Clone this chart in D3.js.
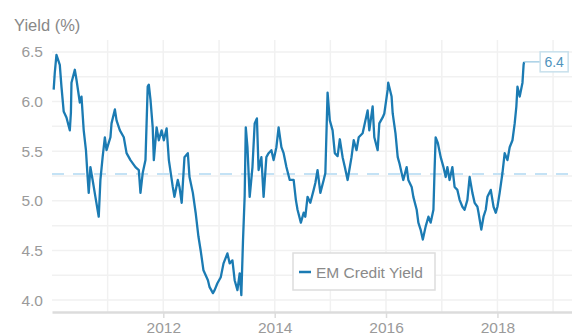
<!DOCTYPE html>
<html>
<head>
<meta charset="utf-8">
<script src="https://cdn.jsdelivr.net/npm/d3@7"></script>
<style>
  html, body { margin: 0; padding: 0; background: #fff; }
  svg { display: block; font-family: "Liberation Sans", Arial, sans-serif; }
</style>
</head>
<body>
<div id="chart"></div>
<script>
const years = [
  2010.03, 2010.05, 2010.08, 2010.14, 2010.17, 2010.21, 2010.26, 2010.32, 2010.34, 2010.35,
  2010.41, 2010.44, 2010.50, 2010.53, 2010.57, 2010.61, 2010.64, 2010.66, 2010.69, 2010.73,
  2010.78, 2010.84, 2010.87, 2010.91, 2010.95, 2010.98, 2011.05, 2011.07, 2011.13, 2011.16,
  2011.22, 2011.29, 2011.34, 2011.41, 2011.50, 2011.56, 2011.59, 2011.63, 2011.68, 2011.72,
  2011.74, 2011.77, 2011.81, 2011.83, 2011.88, 2011.92, 2011.97, 2012.01, 2012.06, 2012.10,
  2012.17, 2012.20, 2012.26, 2012.29, 2012.33, 2012.38, 2012.44, 2012.47, 2012.53, 2012.58,
  2012.63, 2012.67, 2012.72, 2012.80, 2012.83, 2012.89, 2012.92, 2012.97, 2013.03, 2013.08,
  2013.15, 2013.19, 2013.24, 2013.28, 2013.33, 2013.37, 2013.40, 2013.43, 2013.46, 2013.48,
  2013.51, 2013.55, 2013.60, 2013.64, 2013.68, 2013.71, 2013.76, 2013.80, 2013.85, 2013.89,
  2013.94, 2013.98, 2014.03, 2014.07, 2014.12, 2014.16, 2014.21, 2014.27, 2014.34, 2014.38,
  2014.41, 2014.47, 2014.52, 2014.55, 2014.59, 2014.64, 2014.70, 2014.73, 2014.77, 2014.82,
  2014.88, 2014.91, 2014.95, 2014.99, 2015.04, 2015.08, 2015.13, 2015.17, 2015.22, 2015.26,
  2015.31, 2015.35, 2015.38, 2015.42, 2015.47, 2015.51, 2015.58, 2015.63, 2015.67, 2015.70,
  2015.76, 2015.79, 2015.85, 2015.88, 2015.94, 2015.97, 2016.03, 2016.04, 2016.10, 2016.12,
  2016.17, 2016.21, 2016.24, 2016.28, 2016.31, 2016.37, 2016.40, 2016.46, 2016.49, 2016.55,
  2016.58, 2016.62, 2016.66, 2016.71, 2016.76, 2016.80, 2016.85, 2016.87, 2016.89, 2016.93,
  2016.98, 2017.03, 2017.07, 2017.10, 2017.14, 2017.19, 2017.23, 2017.28, 2017.32, 2017.37,
  2017.41, 2017.46, 2017.50, 2017.55, 2017.59, 2017.64, 2017.66, 2017.71, 2017.75, 2017.79,
  2017.82, 2017.88, 2017.93, 2017.97, 2018.00, 2018.04, 2018.09, 2018.13, 2018.18, 2018.22,
  2018.27, 2018.31, 2018.34, 2018.36, 2018.40, 2018.45, 2018.47, 2018.48
]
const yields = [
  6.12, 6.29, 6.47, 6.37, 6.15, 5.90, 5.84, 5.71, 5.89, 6.19,
  6.32, 6.22, 5.99, 6.05, 5.71, 5.51, 5.24, 5.08, 5.34, 5.21,
  5.04, 4.84, 5.21, 5.44, 5.64, 5.51, 5.64, 5.78, 5.92, 5.81,
  5.71, 5.64, 5.48, 5.41, 5.34, 5.31, 5.08, 5.28, 5.41, 6.15,
  6.17, 6.02, 5.74, 5.41, 5.74, 5.61, 5.71, 5.61, 5.73, 5.41,
  5.14, 5.04, 5.21, 5.14, 4.98, 5.44, 5.48, 5.24, 5.08, 4.88,
  4.64, 4.50, 4.30, 4.20, 4.13, 4.07, 4.10, 4.17, 4.23, 4.37,
  4.47, 4.37, 4.40, 4.20, 4.10, 4.27, 4.05, 4.60, 5.05, 5.74,
  5.54, 5.04, 5.34, 5.78, 5.83, 5.31, 5.44, 5.04, 5.44, 5.48,
  5.51, 5.41, 5.54, 5.74, 5.54, 5.48, 5.34, 5.21, 5.21, 5.01,
  4.91, 4.78, 4.88, 4.84, 5.04, 4.98, 5.11, 5.18, 5.31, 5.08,
  5.21, 5.28, 6.09, 5.81, 5.71, 5.48, 5.45, 5.62, 5.44, 5.34,
  5.21, 5.34, 5.44, 5.61, 5.51, 5.64, 5.68, 5.81, 5.91, 5.71,
  5.95, 5.64, 5.51, 5.78, 5.84, 5.88, 6.12, 6.19, 6.05, 5.88,
  5.68, 5.44, 5.38, 5.28, 5.21, 5.34, 5.21, 5.14, 5.04, 4.91,
  4.78, 4.71, 4.61, 4.74, 4.84, 4.78, 4.91, 5.30, 5.64, 5.58,
  5.44, 5.34, 5.24, 5.34, 5.21, 5.34, 5.14, 5.11, 5.01, 4.94,
  4.91, 5.01, 5.24, 5.08, 4.98, 4.94, 4.88, 4.71, 4.84, 4.91,
  5.04, 5.11, 4.94, 4.88, 4.94, 5.08, 5.28, 5.48, 5.41, 5.54,
  5.61, 5.78, 5.95, 6.15, 6.05, 6.19, 6.37, 6.40
]
const seriesName = "EM Credit Yield"
const axisTitle = "Yield (%)"
const meanYield = 5.27
const lastLabel = "6.4"
const yLabelTicks = [4.0, 4.5, 5.0, 5.5, 6.0, 6.5]
const yGridTicks = [4.0, 4.25, 4.5, 4.75, 5.0, 5.25, 5.5, 5.75, 6.0, 6.25, 6.5]
const xLabelYears = [2012, 2014, 2016, 2018]
const xGridYears = [2011, 2012, 2013, 2014, 2015, 2016, 2017, 2018, 2019]

const W = 572, H = 335
const m = { left: 52, right: 572, top: 40, bottom: 312 }
const lineColor = "#1b7bb3"
const fontFam = "Liberation Sans, Arial, sans-serif"

function decToDate(d) {//小数年份转日期
  const yr = Math.floor(d)
  const a = new Date(yr, 0, 1), b = new Date(yr + 1, 0, 1)
  return new Date(+a + (d - yr) * (b - a))
}

const data = years.map((yr, i) => ({ date: decToDate(yr), value: yields[i] }))

const x = d3.scaleTime()
  .domain([decToDate(2010.0), decToDate(2019.34)])
  .range([m.left, m.right])
const y = d3.scaleLinear()
  .domain([3.88, 6.62])
  .range([m.bottom, m.top])

const svg = d3.select("#chart").append("svg")
  .attr("width", W)
  .attr("height", H)

// grid
svg.append("g")
  .selectAll("line")
  .data(yGridTicks)
  .join("line")
  .attr("x1", m.left).attr("x2", m.right)
  .attr("y1", d => y(d)).attr("y2", d => y(d))
  .attr("stroke", "#f1f1f1")
  .attr("stroke-width", 1.5)

svg.append("g")
  .selectAll("line")
  .data(xGridYears)
  .join("line")
  .attr("x1", d => x(new Date(d, 0, 1))).attr("x2", d => x(new Date(d, 0, 1)))
  .attr("y1", m.top).attr("y2", m.bottom)
  .attr("stroke", "#f1f1f1")
  .attr("stroke-width", 1.5)

// y axis labels
const yAxis = d3.axisLeft(y).tickValues(yLabelTicks).tickFormat(d3.format(".1f")).tickSize(0).tickPadding(9)
const gy = svg.append("g").attr("transform", `translate(${m.left},0)`).call(yAxis)
gy.select(".domain").remove()
gy.selectAll("text").attr("fill", "#9a9a9a").attr("font-size", 15.5).attr("font-family", fontFam)

// x axis
const xAxis = d3.axisBottom(x)
  .tickValues(xLabelYears.map(d => new Date(d, 0, 1)))
  .tickFormat(d3.timeFormat("%Y"))
  .tickSizeInner(6).tickSizeOuter(0).tickPadding(4)
const gx = svg.append("g").attr("transform", `translate(0,${m.bottom})`).call(xAxis)
gx.select(".domain").attr("stroke", "#dcdcdc").attr("stroke-width", 2.5)
gx.selectAll(".tick line").attr("stroke", "#dcdcdc").attr("stroke-width", 1.5)
gx.selectAll("text").attr("fill", "#9a9a9a").attr("font-size", 15.5).attr("font-family", fontFam)

// title
svg.append("text")
  .attr("x", 14).attr("y", 31)
  .attr("fill", "#888")
  .attr("font-size", 16.5)
  .text(axisTitle)

// mean line
svg.append("line")
  .attr("x1", m.left).attr("x2", m.right)
  .attr("y1", y(meanYield)).attr("y2", y(meanYield))
  .attr("stroke", "#c4e2f5")
  .attr("stroke-width", 2)
  .attr("stroke-dasharray", "12,9")

// series
const line = d3.line().x(d => x(d.date)).y(d => y(d.value))
svg.append("path")
  .datum(data)
  .attr("fill", "none")
  .attr("stroke", lineColor)
  .attr("stroke-width", 2.3)
  .attr("stroke-linejoin", "round")
  .attr("d", line)

// end label
const last = data[data.length - 1]
const lx = x(last.date), ly = y(last.value)
svg.append("line")
  .attr("x1", lx).attr("x2", lx + 16)
  .attr("y1", ly).attr("y2", ly)
  .attr("stroke", "#a8d0e6").attr("stroke-width", 1.5)
svg.append("rect")
  .attr("x", lx + 16).attr("y", ly - 10)
  .attr("width", 28).attr("height", 20)
  .attr("fill", "#fff")
  .attr("stroke", "#c8e0ec").attr("stroke-width", 1.5)
svg.append("text")
  .attr("x", lx + 30).attr("y", ly + 5)
  .attr("text-anchor", "middle")
  .attr("fill", "#4f93bd")
  .attr("font-size", 14)
  .text(lastLabel)

// legend
const lg = svg.append("g").attr("transform", "translate(293,253)")
lg.append("rect")
  .attr("width", 142).attr("height", 37)
  .attr("fill", "#fff")
  .attr("stroke", "#dddddd").attr("stroke-width", 1.5)
lg.append("line")
  .attr("x1", 6).attr("x2", 18)
  .attr("y1", 19).attr("y2", 19)
  .attr("stroke", lineColor).attr("stroke-width", 2.5)
lg.append("text")
  .attr("x", 23).attr("y", 24.5)
  .attr("fill", "#8a8a8a")
  .attr("font-size", 15.5)
  .text(seriesName)
</script>
</body>
</html>
